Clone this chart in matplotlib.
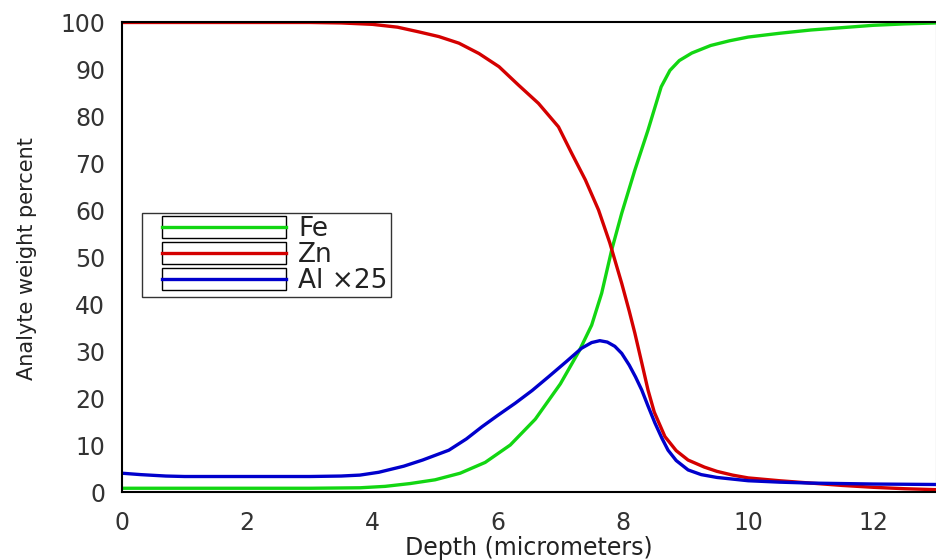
import matplotlib
matplotlib.use("Agg")
import matplotlib.pyplot as plt
from matplotlib.legend_handler import HandlerBase
from matplotlib.patches import Rectangle
from matplotlib.lines import Line2D
import numpy as np

plt.rcParams['font.family'] = ['DejaVu Sans']

fe_x = [0, 1, 2, 3, 3.8, 4.2, 4.6, 5.0, 5.4, 5.8, 6.2, 6.6, 7.0, 7.3, 7.5, 7.66, 7.82, 7.98, 8.19, 8.4, 8.61, 8.75, 8.9, 9.1, 9.4, 9.7, 10.0, 10.5, 11.0, 11.5, 12.0, 12.5, 13.0]
fe_y = [0.8, 0.8, 0.8, 0.8, 0.9, 1.2, 1.8, 2.6, 4.0, 6.3, 10.0, 15.5, 23.0, 30.0, 35.5, 42.3, 51.5, 59.3, 68.5, 77.0, 86.2, 89.7, 91.8, 93.4, 95.0, 96.0, 96.8, 97.6, 98.3, 98.8, 99.3, 99.6, 99.8]

zn_x = [0, 1, 2, 3, 3.5, 4.0, 4.4, 4.74, 5.06, 5.38, 5.70, 6.02, 6.33, 6.65, 6.97, 7.18, 7.40, 7.61, 7.79, 7.98, 8.1, 8.19, 8.3, 8.4, 8.5, 8.67, 8.85, 9.04, 9.3, 9.5, 9.75, 10.0, 10.5, 11.0, 11.5, 12.0, 12.5, 13.0]
zn_y = [99.9, 99.9, 99.9, 99.9, 99.8, 99.5, 98.9, 97.9, 96.9, 95.5, 93.3, 90.5, 86.6, 82.7, 77.7, 72.1, 66.4, 60.0, 53.0, 44.4, 38.5, 33.8, 27.5, 21.7, 17.0, 11.8, 8.8, 6.8, 5.3, 4.4, 3.6, 3.0, 2.4, 1.9, 1.4, 1.0, 0.7, 0.5]

al_x = [0, 0.3, 0.7, 1.0, 2.0, 3.0, 3.5, 3.8, 4.1, 4.5, 4.8, 5.22, 5.5, 5.75, 6.0, 6.28, 6.55, 6.81, 7.1, 7.34, 7.5, 7.63, 7.75, 7.87, 7.98, 8.1, 8.2, 8.3, 8.4, 8.51, 8.62, 8.72, 8.85, 9.04, 9.25, 9.5, 10.0, 10.5, 11.0, 12.0, 13.0]
al_y = [4.0, 3.7, 3.4, 3.3, 3.3, 3.3, 3.4, 3.6, 4.2, 5.5, 6.8, 8.9, 11.3, 13.9, 16.3, 18.9, 21.6, 24.5, 27.8, 30.6, 31.8, 32.2, 31.9, 31.0, 29.5, 27.0, 24.5, 21.7, 18.3, 14.7, 11.5, 8.9, 6.7, 4.7, 3.7, 3.1, 2.4, 2.1, 1.9, 1.7, 1.6]

labels = ['Fe', 'Zn', 'Al \u00d725']
colors = ['#12d612', '#d40000', '#0000cc']

fig = plt.figure(figsize=(9.37, 5.6), dpi=100)
ax = fig.add_axes([0.1302, 0.1214, 0.8688, 0.8393])

l1, = ax.plot(fe_x, fe_y, color=colors[0], lw=2.4, label=labels[0], solid_joinstyle='round')
l2, = ax.plot(zn_x, zn_y, color=colors[1], lw=2.4, label=labels[1], solid_joinstyle='round')
l3, = ax.plot(al_x, al_y, color=colors[2], lw=2.4, label=labels[2], solid_joinstyle='round')

ax.set_xlim(0, 13)
ax.set_ylim(0, 100)
ax.set_xticks(np.arange(0, 13, 2))
ax.set_yticks(np.arange(0, 101, 10))
ax.tick_params(length=0, labelsize=17, colors='#333333')
ax.tick_params(axis='x', pad=14)
ax.tick_params(axis='y', pad=12)
for s in ['left', 'bottom', 'top']:
    ax.spines[s].set_linewidth(1.5)
    ax.spines[s].set_color('black')
ax.spines['right'].set_color('#888888')

ax.set_xlabel('Depth (micrometers)', fontsize=17, color='#222222')
ax.set_ylabel('Analyte weight percent', fontsize=15, color='#222222')
ax.xaxis.set_label_coords(0.5, -0.094)
ax.yaxis.set_label_coords(-0.104, 0.496)


class BoxedLine(HandlerBase):
    def create_artists(self, legend, orig_handle, xdescent, ydescent, width, height, fontsize, trans):
        margin = 0.12 * width
        x0 = -xdescent + margin
        w = width - margin
        rh = height * 1.2
        y0 = -ydescent + height / 2 - rh / 2
        r = Rectangle((x0, y0), w, rh, facecolor='white', edgecolor='black', lw=1.0, transform=trans)
        ln = Line2D([x0, x0 + w], [-ydescent + height / 2] * 2, color=orig_handle.get_color(),
                    lw=orig_handle.get_linewidth(), transform=trans)
        return [r, ln]


leg = ax.legend(handles=[l1, l2, l3], loc='upper left', bbox_to_anchor=(0.0246, 0.594),
                borderaxespad=0, fontsize=19, handlelength=5.34, handletextpad=0.45,
                labelspacing=0.0, borderpad=0.12, fancybox=False, frameon=True,
                labelcolor='#222222',
                handler_map={l1: BoxedLine(), l2: BoxedLine(), l3: BoxedLine()})
leg.get_frame().set_edgecolor('black')
leg.get_frame().set_linewidth(1.0)

fig.savefig('out.png', dpi=100)
